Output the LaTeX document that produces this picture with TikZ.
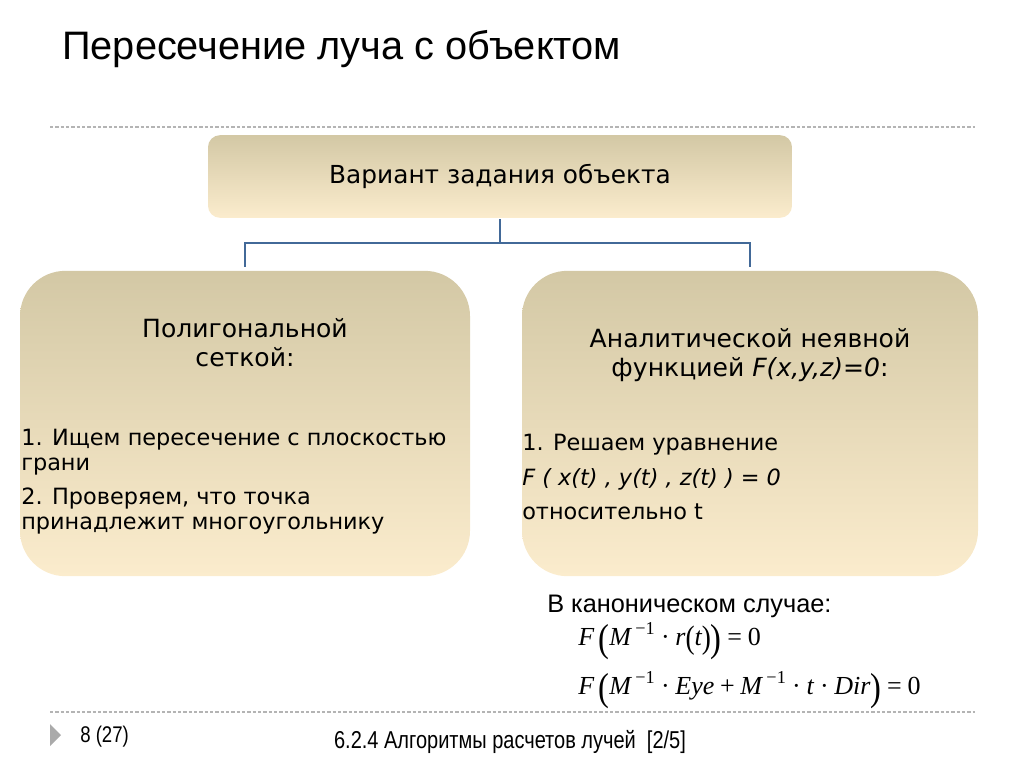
\documentclass[tikz,border=0pt]{standalone}
\usepackage{graphicx}
\usepackage{fontspec}
\setmainfont{DejaVu Sans}
\newfontfamily\arialfont{Liberation Sans}
\newfontfamily\narrowfont{Liberation Sans}[FakeStretch=0.82]
\newfontfamily\timesfont{Liberation Serif}
\usetikzlibrary{positioning, calc}
\definecolor{boxtop}{RGB}{211,200,165}
\definecolor{boxbottom}{RGB}{251,236,205}
\definecolor{linkblue}{RGB}{66,105,152}
\definecolor{rulegray}{RGB}{180,180,180}
\definecolor{markgray}{RGB}{170,170,170}
\newcommand{\bigpar}[1]{\raisebox{-0.24em}{\scalebox{1.25}[1.5]{\upshape #1}}}
\newcommand{\midpar}[1]{\raisebox{-0.12em}{\scalebox{1.05}[1.25]{\upshape #1}}}
\newcommand{\invs}{\,\textsuperscript{\upshape −1}}
\newcommand{\op}[1]{\hspace{0.22em}\textup{#1}\hspace{0.22em}}

\begin{document}
\begin{tikzpicture}[x=0.75pt, y=-0.75pt,
    variant/.style = {rectangle, rounded corners=9pt, top color=boxtop, bottom color=boxbottom, minimum width=438pt, minimum height=62pt, inner sep=0pt, font=\fontsize{18.6}{22}\selectfont},
    option/.style = {rectangle, rounded corners=34pt, top color=boxtop, bottom color=boxbottom, minimum height=229pt, inner sep=0pt},
    heading/.style = {anchor=base, inner sep=0pt, font=\fontsize{18.8}{22}\selectfont},
    item/.style = {anchor=base west, inner sep=0pt, font=\fontsize{16.8}{19}\selectfont},
    formula/.style = {anchor=base west, inner sep=0pt, font=\timesfont\itshape\fontsize{19.5}{22}\selectfont},
    link/.style = {draw=linkblue, line width=2.2pt},
    rule/.style = {draw=rulegray, line width=0.8pt, dash pattern=on 2.5pt off 1.5pt},
  ]
\useasboundingbox (0,0) rectangle (1024,767);

\node[anchor=base west, inner sep=0pt, font=\arialfont\fontsize{29.8}{32}\selectfont] (title) at (62,60) {Пересечение луча с объектом};

\coordinate (topwest) at (50,127);
\coordinate (topeast) at (975,127);
\coordinate (botwest) at (50,712);
\coordinate (boteast) at (975,712);
\draw[rule] (topwest) -- (topeast);
\draw[rule] (botwest) -- (boteast);

\node[variant] (variant) at (500,176.5) {Вариант задания объекта};
\node[option, minimum width=337.5pt] (poly) at (245,423.5) {};
\node[option, minimum width=342pt] (implicit) at (750,423.5) {};

% tree connector
\coordinate (fork) at (500,243);
\draw[link, shorten <=1pt] (variant.south) -- (fork);
\draw[link, shorten >=2.5pt] (fork) -| (poly.north);
\draw[link, shorten >=2.5pt] (fork) -| (implicit.north);

\node[heading] (polyhead) at (245,337) {Полигональной};
\node[heading] (polyhead2) at (245,366) {сеткой:};
\node[item] (polyone) at (21,445) {1. Ищем пересечение с плоскостью};
\node[item] (polyone2) at (21,470) {грани};
\node[item] (polytwo) at (21,504) {2. Проверяем, что точка};
\node[item] (polytwo2) at (21,529) {принадлежит многоугольнику};

\node[heading] (implhead) at (750,347) {Аналитической неявной};
\node[heading] (implhead2) at (750,376) {функцией \textit{F(x,y,z)=0}:};
\node[item] (implone) at (522,450) {1. Решаем уравнение};
\node[item] (implone2) at (522,485) {\textit{F ( x(t) , y(t) , z(t) ) = 0}};
\node[item] (implone3) at (522,519) {относительно t};

\node[anchor=base west, inner sep=0pt, font=\arialfont\fontsize{19}{22}\selectfont] (canon) at (547,612) {В каноническом случае:};
\node[formula] (eqa) at (578,645) {F\,\bigpar{(}M\invs\op{·}r\midpar{(}t\midpar{)}\bigpar{)}\op{=}\textup{0}};
\node[formula] (eqb) at (578,694) {F\,\bigpar{(}M\invs\op{·}Eye\op{+}M\invs\op{·}t\op{·}Dir\bigpar{)}\op{=}\textup{0}};

\fill[markgray] (50,724) -- (61,735) -- (50,746) -- cycle;
\node[anchor=base west, inner sep=0pt, font=\narrowfont\fontsize{17}{19}\selectfont] (slideno) at (80,742) {8 (27)};
\node[anchor=base, inner sep=0pt, font=\narrowfont\fontsize{18.3}{20}\selectfont] (footer) at (510,748) {6.2.4 Алгоритмы расчетов лучей~~[2/5]};
\end{tikzpicture}
\end{document}
